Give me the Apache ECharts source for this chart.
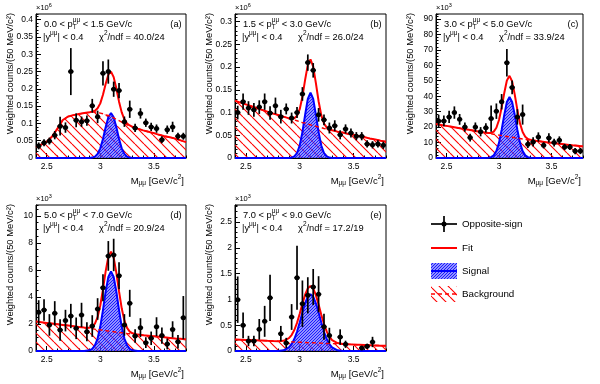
<!DOCTYPE html>
<html><head><meta charset="utf-8">
<script src="https://cdn.jsdelivr.net/npm/echarts@6/dist/echarts.min.js"></script>
<style>html,body{margin:0;padding:0;background:#fff}#c{width:600px;height:384px}</style>
</head><body><div id="c"></div>
<script>
const FONT = '"Liberation Sans", Arial, Helvetica, sans-serif';

// ---------- data ----------
const binCenters = [2.425,2.475,2.525,2.575,2.625,2.675,2.725,2.775,2.825,2.875,2.925,2.975,3.025,3.075,3.125,3.175,3.225,3.275,3.325,3.375,3.425,3.475,3.525,3.575,3.625,3.675,3.725,3.775];
const curveX = [2.4,2.45,2.5,2.55,2.6,2.65,2.7,2.75,2.8,2.85,2.9,2.925,2.95,2.975,3.0,3.025,3.05,3.075,3.1,3.125,3.15,3.175,3.2,3.225,3.25,3.275,3.3,3.35,3.4,3.45,3.5,3.55,3.6,3.65,3.7,3.75,3.8];

const countsA = [0.035,0.044,0.049,0.066,0.092,0.088,0.25,0.109,0.105,0.108,0.151,0.119,0.245,0.25,0.199,0.195,0.105,0.141,0.087,0.129,0.102,0.09,0.085,0.053,0.082,0.09,0.063,0.063];
const errA    = [0.01,0.01,0.01,0.012,0.027,0.015,0.068,0.02,0.015,0.015,0.02,0.018,0.035,0.035,0.022,0.022,0.015,0.025,0.012,0.015,0.012,0.012,0.012,0.01,0.012,0.015,0.01,0.01];
const bkgA = [0.032,0.039,0.047,0.062,0.085,0.110,0.120,0.124,0.127,0.130,0.132,0.133,0.133,0.132,0.130,0.128,0.125,0.123,0.120,0.116,0.112,0.108,0.104,0.100,0.096,0.093,0.090,0.085,0.080,0.076,0.072,0.067,0.063,0.060,0.056,0.051,0.046];
const sigA = [0,0,0,0,0,0,0,0,0,0,0.0003,0.0012,0.004,0.012,0.028,0.055,0.089,0.118,0.13,0.118,0.089,0.055,0.028,0.012,0.004,0.0012,0.0003,0,0,0,0,0,0,0,0,0,0];

const countsB = [0.100,0.124,0.110,0.106,0.112,0.124,0.099,0.115,0.091,0.108,0.088,0.100,0.141,0.210,0.193,0.095,0.084,0.066,0.071,0.051,0.064,0.055,0.048,0.048,0.031,0.029,0.031,0.028];
const errB    = [0.015,0.018,0.015,0.015,0.015,0.018,0.015,0.018,0.015,0.012,0.012,0.012,0.015,0.018,0.016,0.015,0.012,0.012,0.012,0.01,0.01,0.01,0.009,0.009,0.008,0.008,0.008,0.008];
const bkgB = [0.126,0.122,0.118,0.114,0.110,0.106,0.102,0.098,0.095,0.091,0.087,0.085,0.084,0.082,0.080,0.078,0.077,0.075,0.073,0.071,0.070,0.068,0.067,0.065,0.064,0.062,0.061,0.058,0.056,0.053,0.051,0.048,0.046,0.043,0.041,0.038,0.036];
const sigB = [0,0,0,0,0,0,0,0,0,0,0.0002,0.0009,0.0035,0.011,0.0275,0.057,0.095,0.13,0.144,0.13,0.095,0.057,0.0275,0.011,0.0035,0.0009,0.0002,0,0,0,0,0,0,0,0,0,0];

const countsC = [24,24,26.6,29.4,25,20,13.2,20,17,19.5,25.5,30.3,36.4,61.7,45.7,26.6,28.1,8.9,10.4,13.6,8.2,13,10,11.5,7.1,7.1,4.5,4.5];
const errC    = [4,3.5,4,4,3.5,3,2.5,3,3,3,8.5,5,5,8.9,4.5,5,6.5,2.5,3,3,2,3,2.5,2.5,2,2,2,2];
const bkgC = [22.0,21.4,20.8,20.2,19.6,19.0,18.4,17.8,17.2,16.6,16.0,15.7,15.4,15.1,14.8,14.5,14.2,14.0,13.7,13.4,13.1,12.9,12.6,12.3,12.1,11.8,11.6,11.1,10.7,10.2,9.8,9.4,9.0,8.6,8.2,7.9,7.5];
const sigC = [0,0,0,0,0,0,0,0,0,0,0.15,0.55,1.7,4.5,9.8,18.1,27.9,36.2,39.5,36.2,27.9,18.1,9.8,4.5,1.7,0.55,0.15,0,0,0,0,0,0,0,0,0,0];

const countsD = [2.86,3.04,1.93,2.79,1.56,2.25,2.59,1.68,2.67,1.43,1.85,3.11,4.69,7.04,7.11,5.58,1.93,3.53,1.11,1.73,0.62,0.94,1.80,1.14,0.52,1.60,0.69,2.47];
const errD    = [0.9,0.8,0.8,0.9,0.8,0.8,0.9,0.8,0.9,0.7,0.8,0.8,1.0,1.1,1.2,1.0,0.8,1.0,0.5,0.7,0.4,0.5,0.7,0.6,0.4,0.6,0.5,1.6];
const bkgD = [2.18,2.13,2.08,2.03,1.98,1.93,1.88,1.83,1.78,1.73,1.68,1.65,1.62,1.59,1.56,1.53,1.51,1.48,1.45,1.43,1.40,1.38,1.35,1.33,1.30,1.28,1.26,1.21,1.17,1.13,1.09,1.05,1.01,0.97,0.93,0.90,0.86];
const sigD = [0,0,0,0,0,0,0,0,0,0.004,0.05,0.16,0.41,0.92,1.81,3.03,4.39,5.48,5.9,5.48,4.39,3.03,1.81,0.92,0.41,0.16,0.05,0.004,0,0,0,0,0,0,0,0,0];

const countsE = [0.995,0.497,0.194,0.194,0.42,0.575,1.03,null,0.336,0.155,0.659,1.42,0.917,1.08,1.24,1.10,0.47,0.30,null,0.27,0.13,null,null,0.06,0.09,0.175,null,null];
const errE    = [0.45,0.25,0.1,0.1,0.2,0.3,0.45,null,0.15,0.1,0.25,0.62,0.45,0.35,0.35,0.35,0.25,0.15,null,0.15,0.07,null,null,0.03,0.05,0.1,null,null];
const bkgE = [0.225,0.220,0.215,0.211,0.206,0.202,0.197,0.193,0.188,0.184,0.179,0.177,0.175,0.172,0.170,0.168,0.166,0.163,0.161,0.159,0.157,0.154,0.152,0.150,0.148,0.145,0.143,0.139,0.134,0.130,0.125,0.121,0.117,0.112,0.108,0.104,0.100];
const sigE = [0,0,0,0,0,0,0,0,0.002,0.014,0.069,0.132,0.232,0.373,0.551,0.746,0.925,1.053,1.1,1.053,0.925,0.746,0.551,0.373,0.232,0.132,0.069,0.014,0.002,0,0,0,0,0,0,0,0];

// tick labels
const xTicks = [2.5, 3, 3.5];
const yTicksA = [0,0.05,0.1,0.15,0.2,0.25,0.3,0.35,0.4];
const yTicksB = [0,0.05,0.1,0.15,0.2,0.25,0.3];
const yTicksC = [0,10,20,30,40,50,60,70,80,90];
const yTicksD = [0,2,4,6,8,10];
const yTicksE = [0,0.5,1,1.5,2,2.5];
const yMinorStep = [0.01, 0.01, 2, 0.5, 0.1];
const yMax = [0.4166, 0.317, 93.2, 10.81, 2.83];

// texts
const ptLow  = ['0.0','1.5','3.0','5.0','7.0'];
const ptHigh = ['1.5','3.0','5.0','7.0','9.0'];
const chi2   = ['40.0/24','26.0/24','33.9/24','20.9/24','17.2/19'];
const tags   = ['(a)','(b)','(c)','(d)','(e)'];
const expo   = ['6','6','3','3','3'];
const legendLabels = ['Opposite-sign','Fit','Signal','Background'];

// ---------- layout ----------
const gL = [36,235,436,36,235], gT = [14,14,14,205,205], gW = [150,151,147,150,151], gH = [144,144,144,146,146];

const panels = [
  {c:countsA,e:errA,b:bkgA,s:sigA,yt:yTicksA},
  {c:countsB,e:errB,b:bkgB,s:sigB,yt:yTicksB},
  {c:countsC,e:errC,b:bkgC,s:sigC,yt:yTicksC},
  {c:countsD,e:errD,b:bkgD,s:sigD,yt:yTicksD},
  {c:countsE,e:errE,b:bkgE,s:sigE,yt:yTicksE}
];

function hatch(size, color, lw, bg, dir) {
  const c = document.createElement('canvas'); c.width = size; c.height = size;
  const g = c.getContext('2d');
  if (bg) { g.fillStyle = bg; g.fillRect(0,0,size,size); }
  g.strokeStyle = color; g.lineWidth = lw; g.beginPath();
  for (const k of [-size, 0, size]) {
    if (dir === '/') { g.moveTo(k, size); g.lineTo(k+size, 0); }
    else { g.moveTo(k, 0); g.lineTo(k+size, size); }
  }
  g.stroke();
  return c;
}
const redHatch = hatch(9, '#ff0000', 1.1, null, '\\');
const blueHatch = hatch(3, 'rgba(0,0,255,0.9)', 0.9, 'rgba(95,95,255,0.68)', '/');

const meas = document.createElement('canvas').getContext('2d');
function tw(t, s){ meas.font = s + 'px ' + FONT; return meas.measureText(t).width; }
function txt(x, y, t, s, align) {
  return {type:'text', x:x, y:y, silent:true, z:100,
    style:{text:t, font: s+'px '+FONT, fill:'#000', textAlign: align||'left', textVerticalAlign:'middle'}};
}
function parts(x, y, list, base, alignRight) {
  let total = 0;
  list.forEach(p => { if (p[3] !== false) total += tw(p[0], p[1]||base); });
  let cx = alignRight ? x - total : x;
  const out = [];
  list.forEach(p => { const s = p[1]||base; out.push(txt(cx, y + (p[2]||0), p[0], s)); if (p[3] !== false) cx += tw(p[0], s); });
  return out;
}

const grid = [], xAxis = [], yAxis = [], series = [], graphic = [];
const FS = 9.3, SS = 6.5;
panels.forEach((p, i) => {
  const L = gL[i], T = gT[i], W = gW[i], H = gH[i];
  grid.push({left:L, top:T, width:W, height:H, show:true, borderColor:'#000', borderWidth:1, backgroundColor:'rgba(0,0,0,0)'});
  xAxis.push({type:'value', gridIndex:i, min:2.4, max:3.8, interval:0.1, position:'bottom',
    axisLine:{show:true, lineStyle:{color:'#000', width:1}}, axisTick:{show:true, inside:true, length:2.5, lineStyle:{color:'#000'}},
    axisLabel:{show:false}, splitLine:{show:false}});
  xAxis.push({type:'value', gridIndex:i, min:2.4, max:3.8, position:'bottom',
    axisLine:{show:false}, axisTick:{show:true, inside:true, length:5, customValues:xTicks, lineStyle:{color:'#000'}},
    axisLabel:{show:true, customValues:xTicks, fontSize:8.5, color:'#000', margin:4, fontFamily:FONT},
    splitLine:{show:false}});
  yAxis.push({type:'value', gridIndex:i, min:0, max:yMax[i], interval:yMinorStep[i], position:'left',
    axisLine:{show:true, lineStyle:{color:'#000', width:1}}, axisTick:{show:true, inside:true, length:2.5, lineStyle:{color:'#000'}},
    axisLabel:{show:false}, splitLine:{show:false}});
  yAxis.push({type:'value', gridIndex:i, min:0, max:yMax[i], position:'left',
    axisLine:{show:false}, axisTick:{show:true, inside:true, length:5, customValues:p.yt, lineStyle:{color:'#000'}},
    axisLabel:{show:true, customValues:p.yt, fontSize:8.5, color:'#000', margin:3, fontFamily:FONT,
      formatter: v => String(parseFloat(Number(v).toFixed(4)))},
    splitLine:{show:false}});

  const xi = 2*i, yi = 2*i;
  const bkgData = curveX.map((x, k) => [x, p.b[k]]);
  const sigData = curveX.map((x, k) => [x, p.s[k]]);
  const fitData = curveX.map((x, k) => [x, p.b[k] + p.s[k]]);
  const pts = [];
  binCenters.forEach((x, k) => { if (p.c[k] !== null) pts.push([x, p.c[k], p.e[k]]); });

  series.push({type:'line', xAxisIndex:xi, yAxisIndex:yi, data:bkgData, symbol:'none', silent:true, z:1,
    lineStyle:{width:0, opacity:0}, areaStyle:{color:{image:redHatch, repeat:'repeat'}, opacity:1}});
  series.push({type:'line', xAxisIndex:xi, yAxisIndex:yi, data:sigData, symbol:'none', silent:true, z:2,
    lineStyle:{color:'#0000ff', width:2}, areaStyle:{color:{image:blueHatch, repeat:'repeat'}, opacity:1}});
  series.push({type:'line', xAxisIndex:xi, yAxisIndex:yi, data:bkgData, symbol:'none', silent:true, z:3,
    lineStyle:{color:'#ff0000', width:1.4, type:[4,3]}});
  series.push({type:'line', xAxisIndex:xi, yAxisIndex:yi, data:fitData, symbol:'none', silent:true, z:4,
    lineStyle:{color:'#ff0000', width:2}});
  series.push({type:'custom', xAxisIndex:xi, yAxisIndex:yi, data:pts, z:5, silent:true, encode:{x:0, y:1},
    renderItem: function(params, api) {
      const x = api.value(0), y = api.value(1), e = api.value(2);
      const c = api.coord([x, y]);
      const t = api.coord([x, y + e]);
      const b = api.coord([x, Math.max(y - e, 0)]);
      const l = api.coord([x - 0.025, y]);
      const r = api.coord([x + 0.025, y]);
      return {type:'group', children:[
        {type:'line', shape:{x1:c[0], y1:t[1], x2:c[0], y2:b[1]}, style:{stroke:'#000', lineWidth:1.7}},
        {type:'line', shape:{x1:l[0], y1:c[1], x2:r[0], y2:c[1]}, style:{stroke:'#000', lineWidth:1.7}},
        {type:'circle', shape:{cx:c[0], cy:c[1], r:2.5}, style:{fill:'#000'}}
      ]};
    }});

  graphic.push(...parts(L + 8, T + 10, [[ptLow[i] + ' < p', FS], ['T', SS, 3, false], ['μμ', SS, -4], [' < ' + ptHigh[i] + ' GeV/c', FS]], FS));
  graphic.push(...parts(L + 7, T + 23, [['|y', FS], ['μμ', SS, -4], ['| < 0.4', FS]], FS));
  graphic.push(...parts(L + 63, T + 23, [['χ', FS], ['2', SS, -4], ['/ndf = ' + chi2[i], FS]], FS));
  graphic.push(txt(L + W - 10, T + 10, tags[i], FS, 'center'));
  graphic.push(...parts(L, T - 6, [['×10', 7.5], [expo[i], 5.5, -3]], 7.5));
  graphic.push(...parts(L + W - 2, T + H + 23, [['M', 9.5], ['μμ', SS, 2.5], [' [GeV/c', 9.5], ['2', SS, -4], [']', 9.5]], 9.5, true));
  graphic.push({type:'text', x: L - 26, y: T - 1, rotation: Math.PI / 2, silent:true, z:100,
    style:{text:'Weighted counts/(50 MeV/c²)', font:'9.4px ' + FONT, fill:'#000', textAlign:'right', textVerticalAlign:'middle'}});
});

// legend
const lx0 = 431, lx1 = 457, ltx = 462, ly = [224, 248, 271, 294];
graphic.push({type:'line', silent:true, shape:{x1:(lx0+lx1)/2, y1:ly[0]-8, x2:(lx0+lx1)/2, y2:ly[0]+8}, style:{stroke:'#000', lineWidth:1.7}});
graphic.push({type:'line', silent:true, shape:{x1:lx0, y1:ly[0], x2:lx1, y2:ly[0]}, style:{stroke:'#000', lineWidth:1.7}});
graphic.push({type:'circle', silent:true, shape:{cx:(lx0+lx1)/2, cy:ly[0], r:2.5}, style:{fill:'#000'}});
graphic.push({type:'line', silent:true, shape:{x1:lx0, y1:ly[1], x2:lx1, y2:ly[1]}, style:{stroke:'#ff0000', lineWidth:2}});
graphic.push({type:'rect', silent:true, shape:{x:lx0, y:ly[2]-8, width:lx1-lx0, height:16}, style:{fill:{image:blueHatch, repeat:'repeat'}}});
graphic.push({type:'line', silent:true, shape:{x1:lx0, y1:ly[2], x2:lx1, y2:ly[2]}, style:{stroke:'#0000ff', lineWidth:2}});
graphic.push({type:'rect', silent:true, shape:{x:lx0, y:ly[3]-8, width:lx1-lx0, height:16}, style:{fill:{image:redHatch, repeat:'repeat'}}});
graphic.push({type:'line', silent:true, shape:{x1:lx0, y1:ly[3], x2:lx1, y2:ly[3]}, style:{stroke:'#ff0000', lineWidth:1.4, lineDash:[4,3]}});
legendLabels.forEach((t, k) => graphic.push(txt(ltx, ly[k], t, 9.8)));

const chart = echarts.init(document.getElementById('c'), null, {renderer:'canvas', width:600, height:384});
chart.setOption({
  animation:false,
  backgroundColor:'#ffffff',
  textStyle:{fontFamily:FONT},
  grid, xAxis, yAxis, series, graphic
});
</script>
</body></html>
